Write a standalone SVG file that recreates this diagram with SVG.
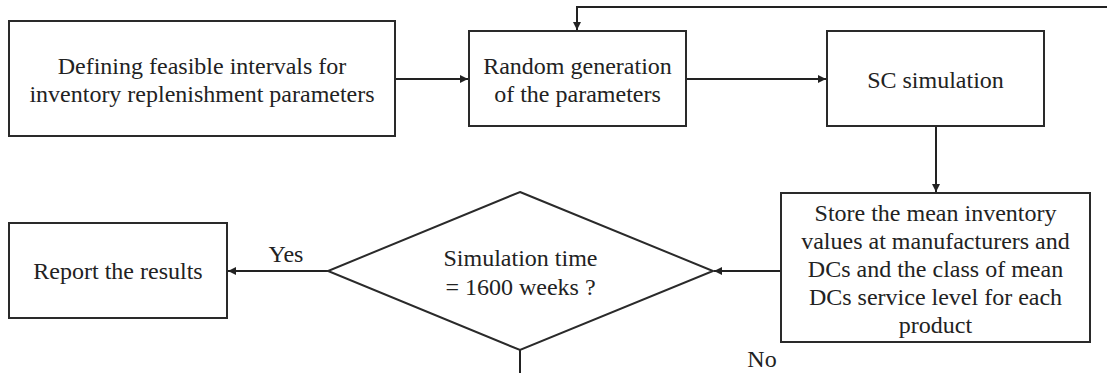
<svg xmlns="http://www.w3.org/2000/svg" width="1107" height="373" viewBox="0 0 1107 373">
  <style>
    .box { fill: #ffffff; stroke: #2a2a2a; stroke-width: 2; }
    .link { fill: none; stroke: #222222; stroke-width: 2; }
    .label { font-family: 'Liberation Serif', 'Times New Roman', 'DejaVu Serif', serif; font-size: 24px; fill: #222222; text-anchor: middle; }
  </style>
  <defs>
    <marker id="arrow" viewBox="0 0 10 10" refX="10" refY="5" markerUnits="userSpaceOnUse" markerWidth="9" markerHeight="8" orient="auto">
      <path d="M0,0 L10,5 L0,10 z" fill="#222222"/>
    </marker>
  </defs>

  <rect width="1107" height="373" fill="#ffffff"/>

  <!-- connectors -->
  <g id="connectors" font-family="Liberation Serif, serif">
    <line class="link" x1="395" y1="79" x2="468" y2="79" marker-end="url(#arrow)"/>
    <line class="link" x1="686" y1="79" x2="826" y2="79" marker-end="url(#arrow)"/>
    <line class="link" x1="936" y1="126" x2="936" y2="192" marker-end="url(#arrow)"/>
    <line class="link" x1="781" y1="271" x2="714" y2="271" marker-end="url(#arrow)"/>
    <line class="link" x1="328" y1="271" x2="228" y2="271" marker-end="url(#arrow)"/>
    <line class="link" x1="520" y1="350" x2="520" y2="373"/>
    <polyline class="link" points="1107,7 577,7 577,30" marker-end="url(#arrow)"/>
    <text class="label" x="286" y="262">Yes</text>
    <text class="label" x="762" y="367">No</text>
  </g>

  <g id="define-intervals" font-family="Liberation Serif, serif">
    <rect class="box" x="9" y="21" width="386" height="115"/>
    <text class="label" x="202" y="74">Defining feasible intervals for</text>
    <text class="label" x="202" y="102">inventory replenishment parameters</text>
  </g>

  <g id="random-generation" font-family="Liberation Serif, serif">
    <rect class="box" x="469" y="31" width="217" height="95"/>
    <text class="label" x="577.5" y="74">Random generation</text>
    <text class="label" x="577.5" y="102">of the parameters</text>
  </g>

  <g id="sc-simulation" font-family="Liberation Serif, serif">
    <rect class="box" x="827" y="31" width="217" height="95"/>
    <text class="label" x="935.5" y="88">SC simulation</text>
  </g>

  <g id="store-values" font-family="Liberation Serif, serif">
    <rect class="box" x="781" y="193" width="309" height="149"/>
    <text class="label" x="935.5" y="221">Store the mean inventory</text>
    <text class="label" x="935.5" y="249">values at manufacturers and</text>
    <text class="label" x="935.5" y="277">DCs and the class of mean</text>
    <text class="label" x="935.5" y="305">DCs service level for each</text>
    <text class="label" x="935.5" y="333">product</text>
  </g>

  <g id="time-check" font-family="Liberation Serif, serif">
    <polygon class="box" points="520,192 713,271 520,350 328,271"/>
    <text class="label" x="520.5" y="266">Simulation time</text>
    <text class="label" x="520.5" y="295">= 1600 weeks ?</text>
  </g>

  <g id="report-results" font-family="Liberation Serif, serif">
    <rect class="box" x="9" y="223" width="218" height="95"/>
    <text class="label" x="118" y="279">Report the results</text>
  </g>
</svg>
